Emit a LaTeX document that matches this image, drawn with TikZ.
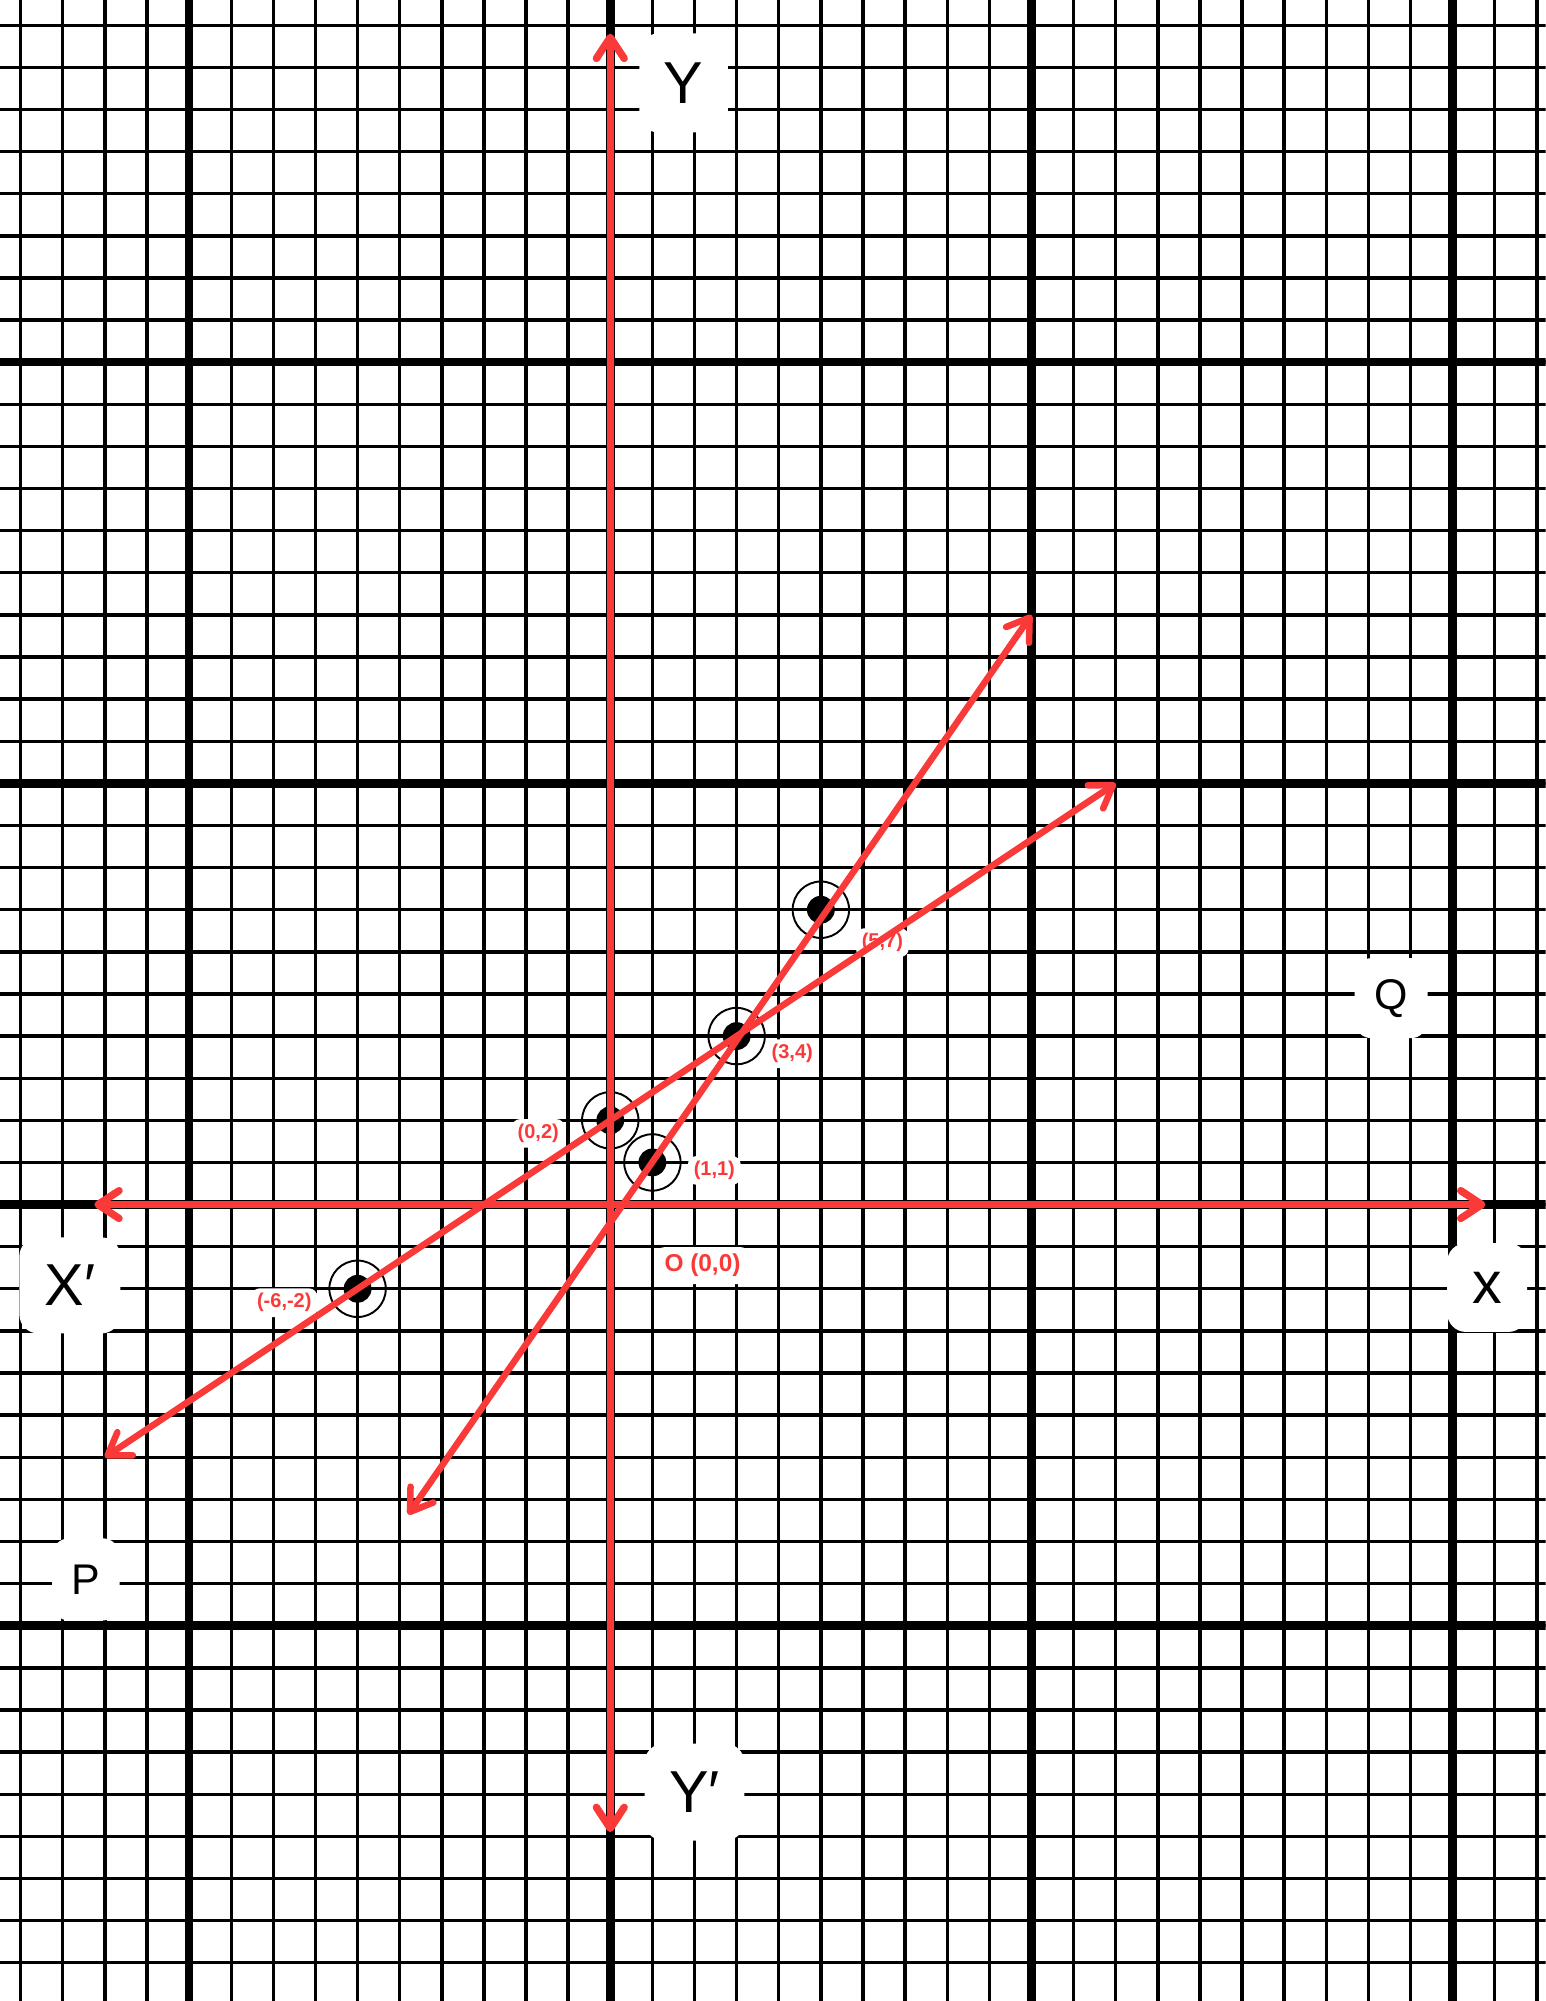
\documentclass[tikz,border=0pt]{standalone}
\usepackage{fontspec}
\setmainfont{Liberation Sans}
\usetikzlibrary{arrows.meta}
\definecolor{plotred}{RGB}{250,57,57}

\begin{document}
\begin{tikzpicture}[line cap=round,line join=round,>={Straight Barb[round,length=0.5cm,width=0.66cm]},x=1.0cm,y=1.0cm,
  thingrid/.style={black,line width=2.3pt,line cap=butt},
  thickgrid/.style={black,line width=5.8pt,line cap=butt},
  redline/.style={plotred,line width=4.4pt},
  redaxis/.style={plotred,line width=5pt},
  bigname/.style={fill=white,rounded corners=0.45cm,inner sep=0pt,text=black,font=\fontsize{40}{42}\selectfont},
  smallname/.style={fill=white,rounded corners=0.4cm,inner sep=0pt,text=black,font=\fontsize{29}{31}\selectfont},
  ptlabel/.style={fill=white,rounded corners=0.2cm,inner xsep=0.14cm,inner ysep=0pt,minimum height=0.68cm,text=plotred,font=\bfseries\fontsize{13.5}{15}\selectfont}]
\useasboundingbox (-14.49,-18.91) rectangle (22.21,28.60);
\clip (-14.49,-18.91) rectangle (22.21,28.60);

\fill[white] (-14.49,-18.91) rectangle (22.21,28.60);
\draw[thingrid,step=1] (-15,-19) grid (23,29);
\draw[thickgrid,step=10] (-20,-20) grid (30,30);

\coordinate (O) at (0.0, 0.0);
\coordinate (A) at (-6.0, -2.0);
\coordinate (B) at (0.0, 2.0);
\coordinate (C) at (3.0, 4.0);
\coordinate (D) at (1.0, 1.0);
\coordinate (E) at (5.0, 7.0);

\coordinate (A1) at (-12.0, -6.0);
\coordinate (A2) at (12.0, 10.0);
\coordinate (B1) at (-4.8, -7.36);
\coordinate (B2) at (10.0, 14.0);

\coordinate (X1) at (-12.25, 0.0);
\coordinate (X2) at (20.78, 0.0);
\coordinate (Y1) at (0.0, -14.9);
\coordinate (Y2) at (0.0, 27.8);

\node[bigname,minimum width=2.1cm,minimum height=2.35cm] (nY) at (1.74, 26.63) {Y};
\node[bigname,minimum width=2.37cm,minimum height=2.3cm] (nYp) at (2.0, -13.95) {Y′};
\node[bigname,minimum width=1.9cm,minimum height=2.11cm] (nx) at (20.82, -1.97) {x};
\node[bigname,minimum width=2.4cm,minimum height=2.28cm] (nXp) at (-12.83, -1.92) {X′};
\node[smallname,minimum width=1.6cm,minimum height=1.95cm] (nP) at (-12.45, -8.9) {P};
\node[smallname,minimum width=1.73cm,minimum height=1.9cm] (nQ) at (18.54, 4.9) {Q};

\node[ptlabel] (lA) at (-7.74, -2.33) {(-6,-2)};
\node[ptlabel] (lB) at (-1.71, 1.69) {(0,2)};
\node[ptlabel] (lC) at (4.32, 3.58) {(3,4)};
\node[ptlabel] (lD) at (2.47, 0.81) {(1,1)};
\node[ptlabel] (lE) at (6.46, 6.22) {(5,7)};
\node[ptlabel,minimum height=0.88cm,inner xsep=0.2cm,font=\bfseries\fontsize{16.5}{18}\selectfont] (lO) at (2.19, -1.45) {O (0,0)};

\fill[black] (A) circle[radius=0.33];
\fill[black] (B) circle[radius=0.33];
\fill[black] (C) circle[radius=0.33];
\fill[black] (D) circle[radius=0.33];
\fill[black] (E) circle[radius=0.33];
\draw[black,line width=1.3pt] (A) circle[radius=0.67];
\draw[black,line width=1.3pt] (B) circle[radius=0.67];
\draw[black,line width=1.3pt] (C) circle[radius=0.67];
\draw[black,line width=1.3pt] (D) circle[radius=0.67];
\draw[black,line width=1.3pt] (E) circle[radius=0.67];

\draw[redline,<->] (A1) -- (A2);
\draw[redline,<->] (B1) -- (B2);

\draw[redaxis,<->] (X1) -- (X2);
\draw[redaxis,<->] (Y1) -- (Y2);

\end{tikzpicture}
\end{document}
